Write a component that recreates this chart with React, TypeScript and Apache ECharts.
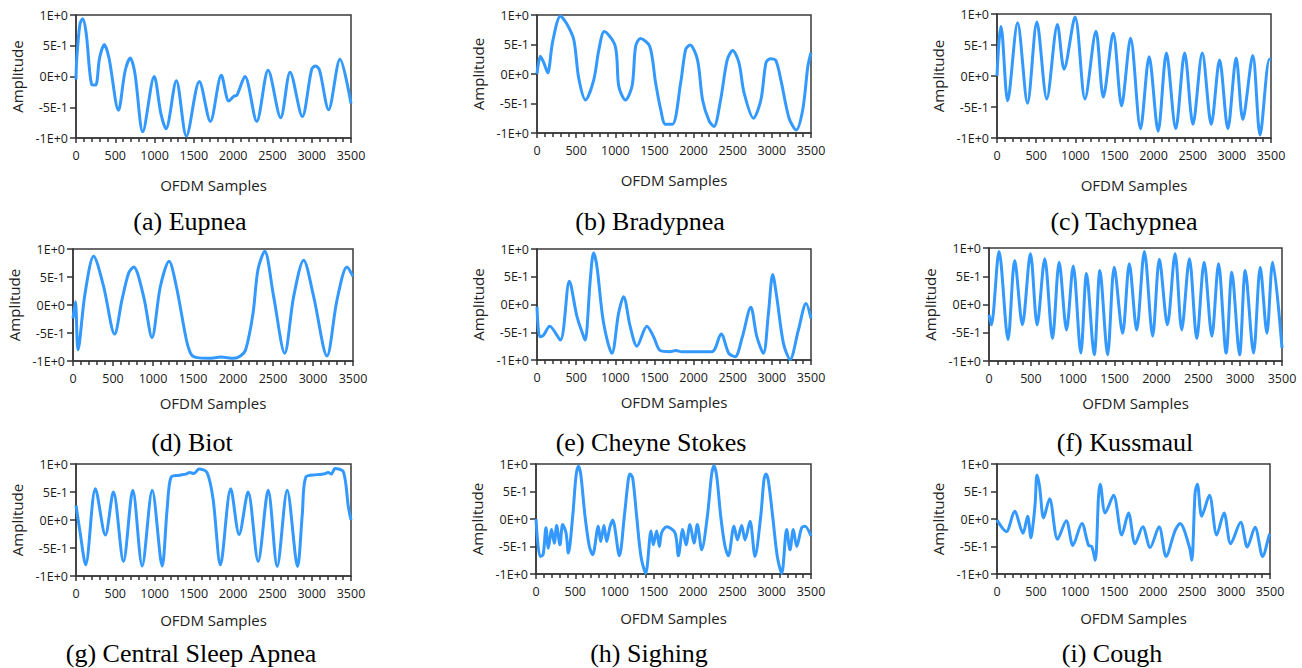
import React, { useEffect, useRef } from "react";
import * as echarts from "echarts";

// ---- data: [OFDM sample, amplitude] ----
const eupnea = [[0,-0.05],[10,0.3],[50,0.85],[85,0.94],[130,0.7],[200,-0.13],[250,-0.14],[300,0.3],[360,0.52],[420,0.3],[540,-0.55],[625,0.09],[690,0.3],[750,0.05],[850,-0.9],[995,0.0],[1080,-0.6],[1145,-0.85],[1277,-0.07],[1405,-0.97],[1570,-0.08],[1710,-0.73],[1850,0.02],[1945,-0.4],[2010,-0.32],[2050,-0.3],[2150,0.0],[2300,-0.73],[2445,0.1],[2605,-0.67],[2725,0.07],[2880,-0.65],[3000,0.12],[3050,0.17],[3100,0.1],[3215,-0.54],[3360,0.28],[3500,-0.44]];
const bradypnea = [[0,0],[43,0.3],[90,0.18],[137,0.02],[200,0.55],[300,0.98],[380,0.85],[470,0.58],[533,-0.07],[620,-0.44],[725,-0.1],[790,0.41],[860,0.72],[1000,0.47],[1045,-0.21],[1130,-0.44],[1215,-0.2],[1260,0.47],[1320,0.6],[1440,0.47],[1515,-0.15],[1580,-0.6],[1640,-0.85],[1730,-0.85],[1835,-0.15],[1900,0.42],[1955,0.49],[2050,0.24],[2115,-0.44],[2200,-0.8],[2260,-0.89],[2345,-0.44],[2430,0.24],[2500,0.4],[2580,0.19],[2645,-0.32],[2765,-0.75],[2860,-0.44],[2925,0.19],[2980,0.26],[3050,0.23],[3115,-0.1],[3220,-0.75],[3310,-0.95],[3395,-0.6],[3460,0.13],[3500,0.36]];
const tachypnea = [[0,0],[25,0.55],[51,0.8],[136,-0.4],[263,0.86],[390,-0.44],[509,0.87],[636,-0.37],[772,0.83],[857,0.11],[997,0.95],[1124,-0.37],[1264,0.72],[1358,-0.34],[1485,0.69],[1591,-0.48],[1706,0.61],[1833,-0.85],[1943,0.31],[2058,-0.89],[2164,0.37],[2283,-0.85],[2397,0.37],[2503,-0.78],[2622,0.37],[2737,-0.78],[2843,0.26],[2949,-0.85],[3055,0.29],[3140,-0.7],[3267,0.33],[3360,-0.95],[3479,0.27],[3500,0.27]];
const biot = [[0,-0.24],[30,0.06],[63,-0.8],[150,0.2],[258,0.87],[383,0.33],[520,-0.52],[612,0.09],[696,0.57],[758,0.68],[883,0.15],[987,-0.58],[1092,0.33],[1200,0.78],[1292,0.33],[1417,-0.62],[1480,-0.89],[1550,-0.94],[1700,-0.95],[1850,-0.93],[2008,-0.95],[2092,-0.91],[2158,-0.8],[2250,-0.15],[2312,0.63],[2396,0.96],[2508,0.15],[2646,-0.86],[2758,0.15],[2883,0.8],[3008,0.15],[3175,-0.91],[3300,0.09],[3425,0.68],[3500,0.51]];
const cheyneStokes = [[0,-0.04],[34,-0.58],[80,-0.56],[162,-0.39],[298,-0.64],[413,0.42],[511,-0.22],[596,-0.58],[617,-0.64],[680,0.44],[723,0.93],[765,0.69],[851,-0.34],[957,-0.88],[1042,-0.16],[1106,0.14],[1191,-0.4],[1276,-0.75],[1404,-0.39],[1489,-0.58],[1574,-0.83],[1700,-0.85],[1770,-0.83],[1850,-0.85],[2233,-0.85],[2352,-0.53],[2450,-0.88],[2531,-0.94],[2620,-0.6],[2731,-0.05],[2808,-0.58],[2892,-0.88],[2956,-0.16],[3011,0.54],[3062,0.14],[3148,-0.7],[3233,-0.99],[3339,-0.46],[3437,0.02],[3500,-0.25]];
const kussmaul = [[0,-0.18],[28,-0.36],[120,0.94],[227,-0.62],[307,0.78],[399,-0.36],[495,0.9],[575,-0.36],[666,0.81],[758,-0.6],[838,0.75],[926,-0.45],[1006,0.68],[1097,-0.86],[1165,0.55],[1257,-0.89],[1325,0.6],[1417,-0.89],[1496,0.66],[1596,-0.51],[1676,0.72],[1764,-0.45],[1856,0.94],[1955,-0.56],[2035,0.8],[2131,-0.36],[2223,0.9],[2302,-0.45],[2394,0.81],[2482,-0.6],[2570,0.75],[2662,-0.56],[2742,0.72],[2833,-0.86],[2901,0.57],[2993,-0.89],[3061,0.6],[3160,-0.86],[3240,0.66],[3320,-0.51],[3388,0.75],[3500,-0.77]];
const centralSleepApnea = [[0,0.26],[50,-0.2],[123,-0.8],[247,0.56],[374,-0.27],[476,0.5],[604,-0.74],[723,0.53],[842,-0.82],[970,0.53],[1097,-0.82],[1160,0.2],[1212,0.77],[1318,0.8],[1400,0.82],[1446,0.85],[1500,0.83],[1565,0.91],[1667,0.85],[1744,0.38],[1838,-0.8],[1969,0.56],[2076,-0.26],[2190,0.5],[2318,-0.74],[2446,0.53],[2561,-0.83],[2688,0.53],[2820,-0.83],[2880,0.1],[2926,0.77],[3062,0.81],[3150,0.82],[3211,0.85],[3250,0.82],[3296,0.92],[3403,0.86],[3467,0.23],[3500,0.0]];
const sighing = [[0,0],[51,-0.68],[90,-0.65],[127,-0.16],[157,-0.53],[199,-0.19],[233,-0.44],[263,-0.12],[305,-0.47],[339,-0.1],[382,-0.25],[412,-0.62],[467,0.05],[509,0.78],[539,0.96],[569,0.82],[624,0.05],[679,-0.5],[721,-0.65],[793,-0.13],[823,-0.41],[865,-0.12],[899,-0.41],[942,-0.14],[976,-0.02],[1061,-0.67],[1124,0.05],[1175,0.72],[1196,0.82],[1230,0.75],[1281,0.05],[1336,-0.68],[1396,-0.99],[1464,-0.22],[1493,-0.47],[1536,-0.22],[1570,-0.5],[1599,-0.25],[1663,-0.14],[1769,-0.25],[1812,-0.67],[1867,-0.19],[1909,-0.47],[1960,-0.1],[2011,-0.44],[2053,-0.1],[2109,-0.56],[2181,0.05],[2236,0.82],[2266,0.97],[2300,0.78],[2351,0.05],[2406,-0.5],[2448,-0.67],[2520,-0.13],[2563,-0.38],[2618,-0.12],[2660,-0.38],[2724,-0.04],[2787,-0.68],[2860,0.05],[2902,0.72],[2927,0.82],[2957,0.7],[3012,0.05],[3071,-0.68],[3127,-0.99],[3190,-0.19],[3233,-0.56],[3275,-0.19],[3318,-0.5],[3381,-0.16],[3424,-0.13],[3500,-0.31]];
const cough = [[0,-0.02],[120,-0.23],[226,0.14],[333,-0.26],[393,0.05],[435,-0.34],[470,0.0],[491,0.32],[512,0.8],[545,0.6],[598,0.02],[674,0.37],[777,-0.37],[888,-0.03],[973,-0.48],[1088,-0.08],[1174,-0.48],[1215,-0.5],[1259,-0.75],[1302,0.42],[1323,0.63],[1387,0.11],[1494,0.43],[1600,-0.29],[1686,0.11],[1771,-0.45],[1869,-0.14],[1963,-0.52],[2078,-0.14],[2168,-0.68],[2283,-0.21],[2347,-0.08],[2467,-0.51],[2497,-0.75],[2540,0.48],[2569,0.63],[2625,0.05],[2723,0.43],[2817,-0.29],[2911,0.11],[2996,-0.45],[3124,-0.06],[3209,-0.51],[3308,-0.15],[3406,-0.68],[3491,-0.29],[3500,-0.27]];

const captions = ["(a) Eupnea", "(b) Bradypnea", "(c) Tachypnea", "(d) Biot", "(e) Cheyne Stokes", "(f) Kussmaul", "(g) Central Sleep Apnea", "(h) Sighing", "(i) Cough"];
const seriesData = [eupnea, bradypnea, tachypnea, biot, cheyneStokes, kussmaul, centralSleepApnea, sighing, cough];
const yTickLabels: Record<string, string> = { "1": "1E+0", "0.5": "5E-1", "0": "0E+0", "-0.5": "-5E-1", "-1": "-1E+0" };

// ---- layout ----
const grids = [
  { left: 76, top: 15, width: 275, height: 123 },
  { left: 537, top: 15, width: 274, height: 118 },
  { left: 997, top: 14, width: 274, height: 124 },
  { left: 73, top: 249, width: 280, height: 112 },
  { left: 537, top: 249, width: 274, height: 111 },
  { left: 989, top: 248, width: 293, height: 113 },
  { left: 76, top: 464, width: 275, height: 112 },
  { left: 536, top: 464, width: 275, height: 110 },
  { left: 997, top: 464, width: 273, height: 110 },
];
const captionPos = [
  [190, 221], [650, 221], [1124, 221],
  [192, 442], [651, 442], [1125, 442],
  [191, 653], [649, 653], [1112, 653],
];
const xNameGaps = [39, 39, 39, 34, 34, 34, 36, 36, 36];

const FONT = '"Open Sans", "Noto Sans", sans-serif';
const AXIS_COLOR = "#333";

export default function App() {
  const ref = useRef<HTMLDivElement>(null);
  useEffect(() => {
    if (!ref.current) return;
    const chart = echarts.init(ref.current, undefined, { renderer: "svg" });
    const option: any = {
      animation: false,
      backgroundColor: "#fff",
      grid: grids.map((g) => ({
        ...g,
        show: true,
        borderColor: "#3a3a3a",
        borderWidth: 1.5,
        backgroundColor: "#fff",
        containLabel: false,
      })),
      xAxis: grids.map((_, i) => ({
        type: "value",
        gridIndex: i,
        min: 0,
        max: 3500,
        interval: 500,
        name: "OFDM Samples",
        nameLocation: "middle",
        nameGap: xNameGaps[i],
        nameTextStyle: { fontSize: 15, color: "#222", fontFamily: FONT },
        axisLine: { show: true, onZero: false, lineStyle: { color: "#3a3a3a", width: 1.5 } },
        axisTick: { show: true, length: 5, lineStyle: { color: AXIS_COLOR, width: 1.5 } },
        minorTick: { show: true, splitNumber: 5, length: 4, lineStyle: { color: AXIS_COLOR, width: 1.5 } },
        splitLine: { show: false },
        minorSplitLine: { show: false },
        axisLabel: {
          fontSize: 12.5,
          color: "#1a1a1a",
          margin: 11,
          fontFamily: FONT,
          formatter: (v: number) => String(v),
        },
      })),
      yAxis: grids.map((_, i) => ({
        type: "value",
        gridIndex: i,
        min: -1,
        max: 1,
        interval: 0.5,
        name: "Amplitude",
        nameLocation: "middle",
        nameGap: 52,
        nameTextStyle: { fontSize: 15, color: "#222", fontFamily: FONT },
        axisLine: { show: true, onZero: false, lineStyle: { color: "#3a3a3a", width: 1.5 } },
        axisTick: { show: true, length: 6, lineStyle: { color: AXIS_COLOR, width: 1.5 } },
        splitLine: { show: false },
        axisLabel: {
          fontSize: 12.5,
          color: "#1a1a1a",
          margin: 8,
          fontFamily: FONT,
          formatter: (v: number) => yTickLabels[String(v)] ?? String(v),
        },
      })),
      series: seriesData.map((d, i) => ({
        type: "line",
        xAxisIndex: i,
        yAxisIndex: i,
        data: d,
        showSymbol: false,
        smooth: 0.3,
        clip: true,
        lineStyle: { color: "#3399ff", width: 3 },
      })),
      graphic: captions.map((t, i) => ({
        type: "text",
        x: captionPos[i][0],
        y: captionPos[i][1],
        style: {
          text: t,
          fill: "#000",
          font: '26px "Liberation Serif", "Times New Roman", serif',
          textAlign: "center",
          textVerticalAlign: "middle",
          align: "center",
          verticalAlign: "middle",
        },
      })),
    };
    chart.setOption(option);
    return () => chart.dispose();
  }, []);
  return (
    <div
      ref={ref}
      style={{ position: "absolute", left: 0, top: 0, width: 1302, height: 668 }}
    />
  );
}
